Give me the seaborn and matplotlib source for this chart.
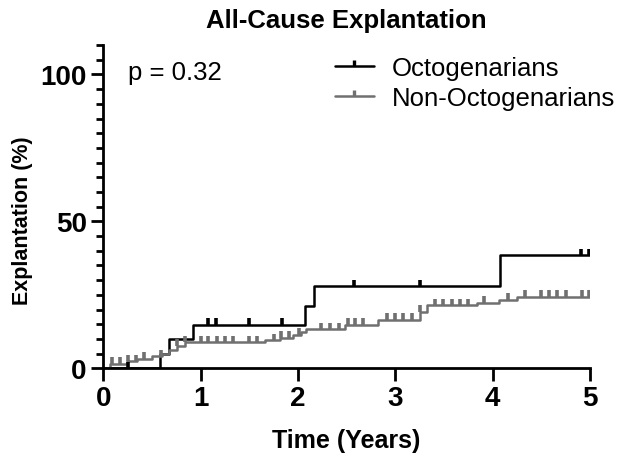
import numpy as np
import matplotlib
matplotlib.use('Agg')
import matplotlib.pyplot as plt
from matplotlib.lines import Line2D
from matplotlib.path import Path
from matplotlib.ticker import MultipleLocator
import seaborn as sns
import pandas as pd

# Step curves (time in years, cumulative explantation %)
octo_time = [0.0, 0.585, 0.67, 0.92, 2.07, 2.16, 4.08, 5.0]
octo_value = [0.0, 5.0, 10.0, 14.9, 21.3, 28.0, 38.4, 38.4]
octo_censor = [0.25, 1.08, 1.16, 1.50, 1.84, 2.58, 3.25, 4.91, 4.99]

non_time = [0.0, 0.07, 0.24, 0.35, 0.50, 0.60, 0.67, 0.76, 0.84, 1.66, 1.82, 1.95,
            2.03, 2.08, 2.48, 2.82, 3.25, 3.33, 3.84, 4.07, 4.25, 5.0]
non_value = [0.0, 1.5, 2.4, 3.2, 4.2, 5.0, 6.3, 7.7, 8.8, 9.6, 10.4, 11.5,
             12.5, 13.4, 14.8, 16.5, 19.3, 21.4, 22.4, 23.3, 24.4, 24.4]
non_censor = [0.09, 0.17, 0.25, 0.34, 0.42, 0.59, 0.76, 0.84, 1.00, 1.08, 1.17, 1.25,
              1.33, 1.50, 1.58, 1.75, 1.83, 1.91, 2.01, 2.24, 2.33, 2.42, 2.51, 2.59,
              2.67, 2.91, 3.00, 3.08, 3.17, 3.25, 3.41, 3.49, 3.58, 3.67, 3.75, 3.91,
              4.16, 4.33, 4.50, 4.58, 4.66, 4.75, 4.92, 4.99]

groups = ['Octogenarians', 'Non-Octogenarians']
colors = {'Octogenarians': '#000000', 'Non-Octogenarians': '#707070'}

df = pd.concat([
    pd.DataFrame({'time': octo_time, 'value': octo_value, 'group': groups[0]}),
    pd.DataFrame({'time': non_time, 'value': non_value, 'group': groups[1]}),
])

sns.set_style('ticks')
plt.rcParams['font.family'] = ['Liberation Sans', 'DejaVu Sans']
plt.rcParams['text.color'] = 'black'
plt.rcParams['axes.labelcolor'] = 'black'
plt.rcParams['xtick.color'] = 'black'
plt.rcParams['ytick.color'] = 'black'
plt.rcParams['axes.edgecolor'] = 'black'
bold_font = ['Liberation Sans Narrow', 'Liberation Sans', 'DejaVu Sans']

fig = plt.figure(figsize=(6.19, 4.56), dpi=100)
ax = fig.add_axes([0.167, 0.19, 0.786, 0.709])

sns.lineplot(data=df, x='time', y='value', hue='group', palette=colors,
             estimator=None, sort=False, drawstyle='steps-post', linewidth=1.8,
             legend=False, ax=ax)

# censor ticks drawn upward from the curve
def step_at(times, values, t):
    idx = np.searchsorted(times, t, side='right') - 1
    return np.asarray(values)[idx]

for times, values, cens, g in [(octo_time, octo_value, octo_censor, groups[0]),
                               (non_time, non_value, non_censor, groups[1])]:
    base = step_at(times, values, cens)
    ax.vlines(cens, base, base + 2.2, color=colors[g], linewidth=2.6)

ax.set_xlim(0, 5)
ax.set_ylim(0, 110)
ax.set_xticks([0, 1, 2, 3, 4, 5])
ax.set_yticks([0, 50, 100])
ax.yaxis.set_minor_locator(MultipleLocator(5))
ax.tick_params(axis='both', which='major', length=9, width=2.0, pad=3)
ax.tick_params(axis='y', which='minor', length=5, width=2.0)
for lab in ax.get_xticklabels() + ax.get_yticklabels():
    lab.set_fontweight('bold')
    lab.set_fontfamily(bold_font)
    lab.set_fontsize(20)
for s in ['left', 'bottom']:
    ax.spines[s].set_linewidth(2.0)
sns.despine(ax=ax)

ax.set_xlabel('Time (Years)', fontsize=18, fontweight='bold', family=bold_font, labelpad=12)
ax.set_ylabel('Explantation (%)', fontsize=15.5, fontweight='bold', family=bold_font)
ax.yaxis.set_label_coords(-0.145, 0.46)
ax.set_title('All-Cause Explantation', fontsize=18.5, fontweight='bold', family=bold_font, pad=13)

ax.text(0.25, 101, 'p = 0.32', fontsize=18.5, va='center')

tick = Path([(0, 0), (0, 1)])
handles = [Line2D([0], [0], color=colors[g], linewidth=1.8, marker=tick,
                  markersize=9, markeredgewidth=2.4) for g in groups]
ax.legend(handles, groups, loc='upper left', bbox_to_anchor=(0.476, 0.965),
          frameon=False, fontsize=18.5, borderpad=0, borderaxespad=0,
          labelspacing=0.22, handlelength=1.5, handletextpad=0.7, numpoints=1)

fig.savefig('out.png', dpi=100)
